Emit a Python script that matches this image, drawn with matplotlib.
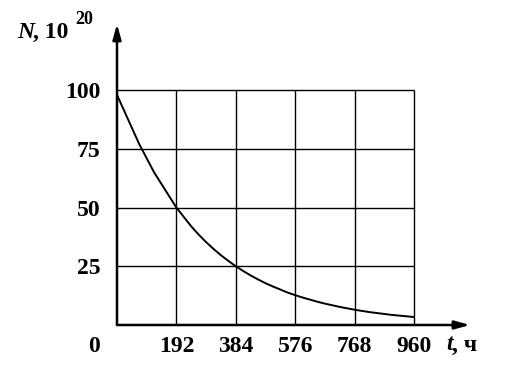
import matplotlib.pyplot as plt

# decay curve (t in hours, N in 10^20)
t_hours = [0, 24, 48, 72, 96, 120, 144, 168, 192, 216, 240, 264, 288,
           312, 336, 360, 384, 408, 432, 456, 480, 504, 528, 552, 576,
           600, 624, 648, 672, 696, 720, 744, 768, 792, 816, 840, 864,
           888, 912, 936, 960]
n_values = [98, 91, 84, 77, 71, 65, 60, 55, 50, 46, 42, 38.5, 35.3,
            32.4, 29.7, 27.3, 25, 23, 21.1, 19.4, 17.8, 16.4, 15.1, 13.8,
            12.7, 11.7, 10.8, 9.9, 9.1, 8.4, 7.7, 7.1, 6.5, 6.0, 5.5, 5.1,
            4.7, 4.3, 4.0, 3.7, 3.4]

x_ticks = [192, 384, 576, 768, 960]
y_ticks = [25, 50, 75, 100]

plt.rcParams['font.family'] = ['Liberation Serif', 'DejaVu Serif']

fig = plt.figure(figsize=(5.29, 3.66), dpi=100)
ax = fig.add_axes([117 / 529, 41 / 366, 353 / 529, 301 / 366])
ax.set_xlim(0, 1141)
ax.set_ylim(0, 128.2)
for s in ax.spines.values():
    s.set_visible(False)

# grid inside the 0..960 x 0..100 box
ax.vlines(x_ticks, 0, 100, color='black', lw=1.0)
ax.hlines(y_ticks, 0, 960, color='black', lw=1.0)

ax.plot(t_hours, n_values, color='black', lw=1.4)

# axes with arrows
arrow = dict(arrowstyle='-|>,head_length=0.9,head_width=0.25', color='black',
             lw=1.8, shrinkA=0, shrinkB=0)
ax.annotate('', xy=(1141, 0), xytext=(0, 0), arrowprops=arrow,
            annotation_clip=False)
ax.annotate('', xy=(0, 128.2), xytext=(0, 0), arrowprops=arrow,
            annotation_clip=False)

ax.set_xticks(x_ticks)
ax.set_yticks(y_ticks)
ax.set_xticklabels([str(v) for v in x_ticks], fontsize=17, fontweight='bold')
ax.set_yticklabels([str(v) for v in y_ticks], fontsize=17, fontweight='bold')
ax.tick_params(axis='x', length=0, pad=8)
ax.tick_params(axis='y', length=0, pad=12)

fig.text(94 / 529, 1 - 346 / 366, '0', fontsize=17, fontweight='bold',
         ha='center', va='center')
fig.text(17 / 529, 1 - 32 / 366, 'N', fontsize=17, fontweight='bold',
         style='italic', ha='left', va='center')
fig.text(33 / 529, 1 - 32 / 366, ', 10', fontsize=17, fontweight='bold',
         ha='left', va='center')
fig.text(75 / 529, 1 - 19 / 366, '20', fontsize=13, fontweight='bold',
         ha='left', va='center')
fig.text(446 / 529, 1 - 345 / 366, 't', fontsize=17, fontweight='bold',
         style='italic', ha='left', va='center')
fig.text(452 / 529, 1 - 345 / 366, ', ч', fontsize=17, fontweight='bold',
         ha='left', va='center')

fig.savefig('out.png', dpi=100)
